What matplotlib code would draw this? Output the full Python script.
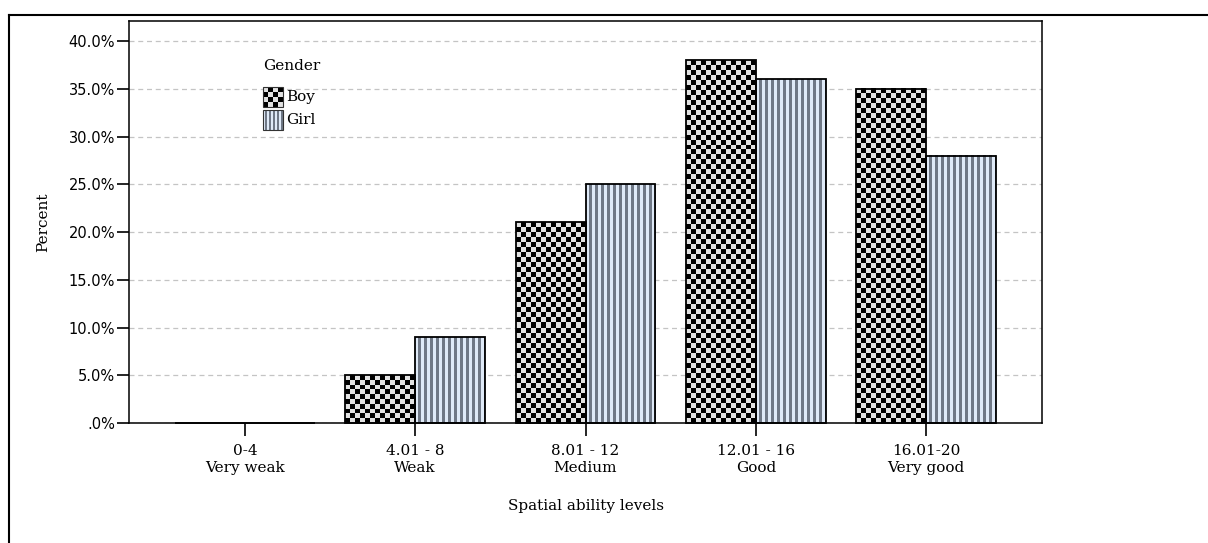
import matplotlib
matplotlib.use("Agg")
import matplotlib.pyplot as plt
import numpy as np
from matplotlib.colors import ListedColormap
from matplotlib.lines import Line2D

# data
categories = ["0-4\nVery weak", "4.01 - 8\nWeak", "8.01 - 12\nMedium",
              "12.01 - 16\nGood", "16.01-20\nVery good"]
boy = [0, 5, 21, 38, 35]
girl = [0, 9, 25, 36, 28]
yticks = [0, 5, 10, 15, 20, 25, 30, 35, 40]
ytick_labels = [".0%", "5.0%", "10.0%", "15.0%", "20.0%", "25.0%", "30.0%", "35.0%", "40.0%"]

W, H = 1208, 543
CHECK = ListedColormap(["#e2e2e2", "#000000"])
STRIPE = ListedColormap(["#dfeaf8", "#6f7886"])
SERIF = "DejaVu Serif"


def checker(w_px, h_px, cell=5):
	nc = max(1, int(round(w_px / cell)))
	nr = max(1, int(round(h_px / cell)))
	i, j = np.indices((nr, nc))
	return (i + j) % 2


def stripes(w_px, period=6):
	n = max(1, int(round(w_px)))
	return ((np.arange(n) // (period // 2)) % 2).reshape(1, n)


def main():
	fig = plt.figure(figsize=(W / 100, H / 100), dpi=100)
	ax = fig.add_axes([129 / W, 1 - 423 / H, 913 / W, 402 / H])

	x = np.arange(len(categories))
	bw = 0.41
	ax.set_xlim(-0.68, len(categories) - 1 + 0.68)
	ax.set_ylim(0, 42.1)

	# pixel scale of the data units
	px_x = ax.transData.transform((1, 0))[0] - ax.transData.transform((0, 0))[0]
	px_y = ax.transData.transform((0, 1))[1] - ax.transData.transform((0, 0))[1]

	for xi, hb, hg in zip(x, boy, girl):
		if hb > 0:
			ax.imshow(checker(bw * px_x, hb * px_y), cmap=CHECK, vmin=0, vmax=1,
					  extent=[xi - bw, xi, 0, hb], aspect="auto",
					  interpolation="nearest", zorder=2)
		if hg > 0:
			ax.imshow(stripes(bw * px_x), cmap=STRIPE, vmin=0, vmax=1,
					  extent=[xi, xi + bw, 0, hg], aspect="auto",
					  interpolation="nearest", zorder=2)

	ax.bar(x - bw / 2, boy, bw, facecolor="none", edgecolor="black", linewidth=1.3,
		   zorder=3, clip_on=False)
	ax.bar(x + bw / 2, girl, bw, facecolor="none", edgecolor="black", linewidth=1.3,
		   zorder=3, clip_on=False)

	# legend drawn by hand so the patches carry the same patterns
	ax.text((263 - 129) / 913, (423 - 66) / 402, "Gender", transform=ax.transAxes,
			family=SERIF, fontsize=11, va="center", ha="left")
	for (py, lab, img, cm) in [(97, "Boy", checker(20, 20), CHECK),
							   (120, "Girl", stripes(20, 5), STRIPE)]:
		x0 = (263 - 129) / 913
		x1 = (283 - 129) / 913
		y0 = (423 - py - 10) / 402
		y1 = (423 - py + 10) / 402
		ax.imshow(img, cmap=cm, vmin=0, vmax=1, extent=[x0, x1, y0, y1],
				  transform=ax.transAxes, aspect="auto", interpolation="nearest", zorder=4)
		ax.add_patch(plt.Rectangle((x0, y0), x1 - x0, y1 - y0, transform=ax.transAxes,
								   facecolor="none", edgecolor="#333333", linewidth=0.8, zorder=5))
		ax.text((286 - 129) / 913, (423 - py) / 402, lab, transform=ax.transAxes,
				family=SERIF, fontsize=11, va="center", ha="left")

	ax.set_xlim(-0.68, len(categories) - 1 + 0.68)
	ax.set_ylim(0, 42.1)

	ax.set_yticks(yticks)
	ax.set_yticklabels(ytick_labels, family="DejaVu Sans", fontsize=10.5)
	ax.set_xticks(x)
	ax.set_xticklabels(categories, family=SERIF, fontsize=11, linespacing=1.3)
	ax.tick_params(axis="y", length=9, width=1.2, pad=1)
	ax.tick_params(axis="x", length=9, width=1.2, pad=6)

	ax.grid(axis="y", color="#c4c4c4", linestyle=(0, (4, 3)), linewidth=0.9, zorder=0)
	ax.set_axisbelow(True)
	for s in ax.spines.values():
		s.set_linewidth(1.1)
		s.set_color("black")

	ax.text(-0.0942, 0.5, "Percent", transform=ax.transAxes, rotation=90,
			family=SERIF, fontsize=11, va="center", ha="center")
	ax.text(0.5, (423 - 506) / 402, "Spatial ability levels", transform=ax.transAxes,
			family=SERIF, fontsize=11, va="center", ha="center")

	# outer frame of the screenshot
	fy = 1 - 15 / H
	fx = 9 / W
	fig.add_artist(Line2D([fx, fx], [0, fy], color="black", linewidth=1.5))
	fig.add_artist(Line2D([fx, 1], [fy, fy], color="black", linewidth=1.5))

	fig.savefig("out.png", dpi=100)


if __name__ == '__main__':
	main()
